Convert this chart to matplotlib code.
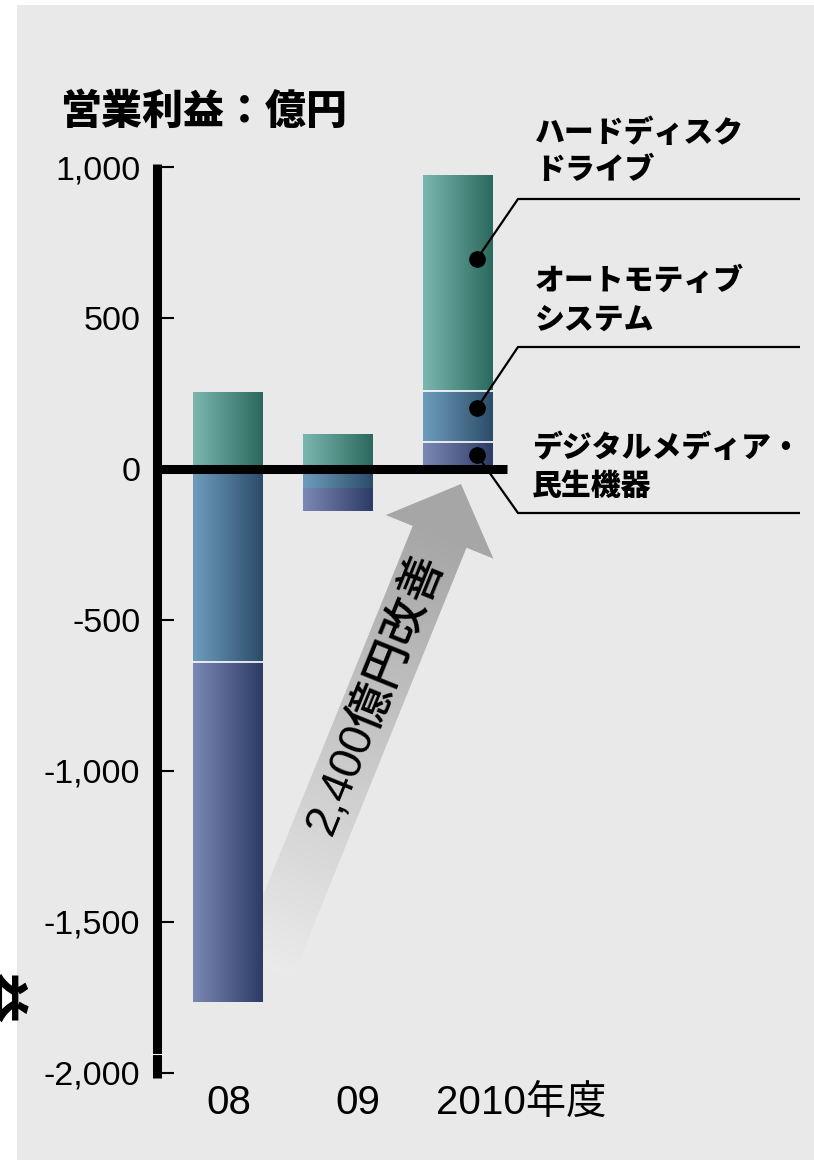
import numpy as np
import matplotlib
matplotlib.use('Agg')
import matplotlib.pyplot as plt
from matplotlib.patches import Rectangle, FancyArrow
from matplotlib.colors import to_rgb

plt.rcParams['font.family'] = ['Liberation Sans', 'Noto Sans CJK JP']

# 営業利益（億円）
years = ['08', '09', '2010年度']
hdd = [255, 115, 715]          # ハードディスクドライブ
auto = [-640, -65, 170]        # オートモティブシステム
digital = [-1125, -75, 90]     # デジタルメディア・民生機器
yticks = [1000, 500, 0, -500, -1000, -1500, -2000]

# 棒の位置と色（左→右のグラデーション）
bar_x = [0, 1, 2.09]
bar_w = 0.636
col_hdd = ('#7ab7b0', '#2b695e')
col_auto = ('#6e9dbc', '#2b4c69')
col_dig = ('#7c88b4', '#2c3c66')
bg = '#e9e9e9'

fig = plt.figure(figsize=(8.14, 11.6), dpi=100)
W, H = 814, 1160

# 背景と矢印用の下層
back = fig.add_axes([0, 0, 1, 1], zorder=0)
back.set_xlim(0, W)
back.set_ylim(H, 0)
back.axis('off')
back.add_patch(Rectangle((17, 5), W - 17, H - 5, color=bg, lw=0))

# メインの棒グラフ
ax = fig.add_axes([157 / W, (H - 1088) / H, (W - 157) / W, (1088 - 152) / H], zorder=1)
ax.patch.set_alpha(0)
x_left, x_right = -0.645, 5.327
y_lo, y_hi = -2050, 1050


def fill_gradient(rect, cols):
    h = rect.get_height()
    if h == 0:
        return
    x0 = rect.get_x()
    x1 = x0 + rect.get_width()
    y0 = rect.get_y()
    y1 = y0 + h
    t = np.linspace(0, 1, 256)[None, :, None]
    img = (1 - t) * np.array(to_rgb(cols[0])) + t * np.array(to_rgb(cols[1]))
    ax.imshow(img, extent=(x0, x1, min(y0, y1), max(y0, y1)), aspect='auto',
              origin='lower', interpolation='bilinear', zorder=2)
    rect.set_facecolor('none')


pos_base = np.zeros(3)
neg_base = np.zeros(3)
for vals, cols in [(digital, col_dig), (auto, col_auto), (hdd, col_hdd)]:
    up = np.clip(np.array(vals, dtype=float), 0, None)
    bars = ax.bar(bar_x, up, bar_w, bottom=pos_base, lw=0, zorder=2)
    for i, r in enumerate(bars):
        fill_gradient(r, cols)
        if up[i] > 0 and pos_base[i] > 0:
            ax.hlines(pos_base[i], r.get_x(), r.get_x() + bar_w, colors='white', lw=1.2, zorder=3)
    pos_base += up

for vals, cols in [(hdd, col_hdd), (auto, col_auto), (digital, col_dig)]:
    down = np.clip(np.array(vals, dtype=float), None, 0)
    bars = ax.bar(bar_x, down, bar_w, bottom=neg_base, lw=0, zorder=2)
    for i, r in enumerate(bars):
        fill_gradient(r, cols)
        if down[i] < 0 and neg_base[i] < -100:
            ax.hlines(neg_base[i], r.get_x(), r.get_x() + bar_w, colors='white', lw=1.2, zorder=3)
    neg_base += down

# ゼロ線
ax.hlines(0, x_left, 2.536, colors='black', lw=6.5, zorder=5)

ax.set_xlim(x_left, x_right)
ax.set_ylim(y_lo, y_hi)
for s in ['top', 'right', 'bottom']:
    ax.spines[s].set_visible(False)
ax.spines['left'].set_linewidth(6.5)
ax.spines['left'].set_capstyle('butt')
ax.spines['left'].set_bounds(-2017, 1010)
ax.set_xticks([])
ax.set_yticks(yticks, labels=[f'{v:,}' for v in yticks])
ax.tick_params(axis='y', direction='in', length=12.5, width=1.5, pad=12, labelsize=24.5)

# 改善幅を示す矢印（グラデーション）
tail = np.array([265.0, 968.0])
tip = np.array([461.0, 484.0])
arrow = FancyArrow(tail[0], tail[1], tip[0] - tail[0], tip[1] - tail[1], width=58,
                   head_width=116, head_length=57, length_includes_head=True,
                   facecolor='none', edgecolor='none')
back.add_patch(arrow)
gx0, gx1, gy0, gy1 = 200, 520, 470, 1010
xx, yy = np.meshgrid(np.linspace(gx0, gx1, 320), np.linspace(gy0, gy1, 540))
d = tip - tail
proj = ((xx - tail[0]) * d[0] + (yy - tail[1]) * d[1]) / (d @ d)
k = np.clip(proj / 0.9, 0, 1)[..., None]
light = np.array(to_rgb('#ebebeb'))
dark = np.array(to_rgb('#a6a6a6'))
grad = light + (dark - light) * k
im = back.imshow(grad, extent=(gx0, gx1, gy1, gy0), origin='upper', aspect='auto', zorder=2)
im.set_clip_path(arrow)
back.set_xlim(0, W)
back.set_ylim(H, 0)
ang = np.degrees(np.arctan2(-d[1], d[0]))
back.text(376, 694, '2,400億円改善', rotation=ang, rotation_mode='anchor',
          ha='center', va='center', fontsize=33, fontweight='medium', zorder=3)

# 注記・ラベル類の上層
front = fig.add_axes([0, 0, 1, 1], zorder=2)
front.set_xlim(0, W)
front.set_ylim(H, 0)
front.axis('off')

front.text(60, 112, '営業利益：億円', fontsize=29.5, fontweight='black', va='center')
front.text(-3, 997, '益', fontsize=36, fontweight='black', rotation=-90, ha='center', va='center')
front.plot([151, 163], [1054, 1054], color='white', lw=0.8)

for xl, lab in zip([206, 335, 436], years):
    front.text(xl, 1103, lab, fontsize=29, va='center')

leaders = [
    ([800, 518, 477], [199, 199, 259]),
    ([800, 518, 477], [347, 347, 408]),
    ([800, 518, 477], [513, 513, 455]),
]
for lx, ly in leaders:
    front.plot(lx, ly, color='black', lw=1.6, solid_capstyle='butt')
    front.plot(lx[-1], ly[-1], 'o', color='black', ms=11)

labels = [
    (535, 133, 'ハードディスク'), (535, 171, 'ドライブ'),
    (535, 281, 'オートモティブ'), (535, 321, 'システム'),
    (532, 448, 'デジタルメディア・'), (532, 487, '民生機器'),
]
for lx, ly, txt in labels:
    front.text(lx, ly, txt, fontsize=21.5, fontweight='black', va='center')

fig.savefig('out.png', dpi=100, facecolor='white')
